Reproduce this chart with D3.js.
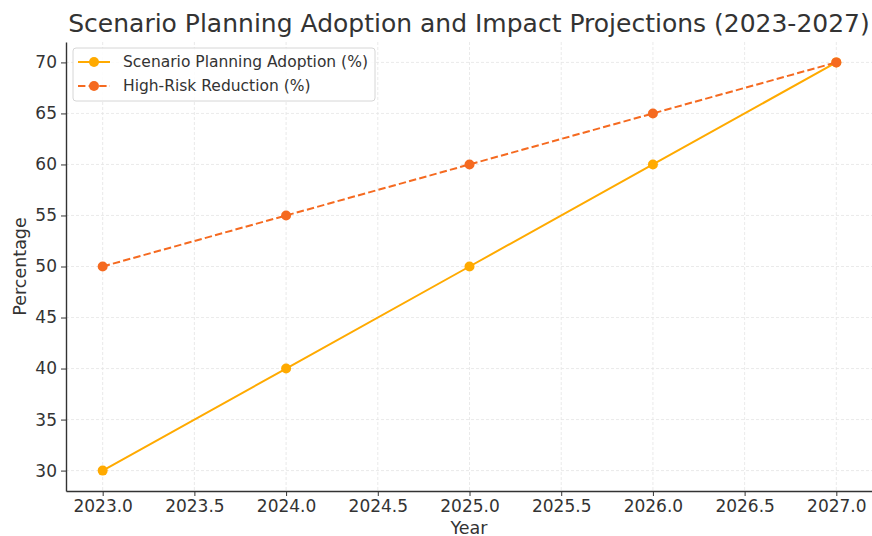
<!DOCTYPE html>
<html>
<head>
<meta charset="utf-8">
<script src="https://cdn.jsdelivr.net/npm/d3@7"></script>
<style>
  body { margin: 0; background: #fff; }
  svg text { font-family: "DejaVu Sans", sans-serif; }
</style>
</head>
<body>
<svg id="chart"></svg>
<script>
var years = [2023, 2024, 2025, 2026, 2027];
var adoption = [30, 40, 50, 60, 70];
var riskReduction = [50, 55, 60, 65, 70];
var xTicks = [2023.0, 2023.5, 2024.0, 2024.5, 2025.0, 2025.5, 2026.0, 2026.5, 2027.0];
var yTicks = [30, 35, 40, 45, 50, 55, 60, 65, 70];

var series = [
  { name: "Scenario Planning Adoption (%)", values: adoption, color: "#ffaa00", dash: null },
  { name: "High-Risk Reduction (%)", values: riskReduction, color: "#f56a20", dash: "7.4,3.2" }
];

var width = 872, height = 536;
var margin = { top: 42, right: 0, bottom: 45, left: 66 };

var svg = d3.select("svg#chart")
  .attr("width", width)
  .attr("height", height);

var x = d3.scaleLinear().domain([2022.8, 2027.2]).range([margin.left, 873]);
var y = d3.scaleLinear().domain([28, 72]).range([height - margin.bottom, margin.top]);

// grid
var grid = svg.append("g").attr("stroke", "#e4e4e4").attr("stroke-dasharray", "3,2").attr("stroke-width", 0.8);
grid.selectAll(".gx").data(xTicks).enter().append("line")
  .attr("x1", function(d) { return x(d); }).attr("x2", function(d) { return x(d); })
  .attr("y1", y.range()[1]).attr("y2", y.range()[0]);
grid.selectAll(".gy").data(yTicks).enter().append("line")
  .attr("y1", function(d) { return y(d); }).attr("y2", function(d) { return y(d); })
  .attr("x1", margin.left).attr("x2", width);

// axes
var xAxis = svg.append("g")
  .attr("transform", "translate(0," + (height - margin.bottom) + ")")
  .call(d3.axisBottom(x).tickValues(xTicks).tickFormat(d3.format(".1f")).tickSize(5).tickSizeOuter(0).tickPadding(4));
var yAxis = svg.append("g")
  .attr("transform", "translate(" + margin.left + ",0)")
  .call(d3.axisLeft(y).tickValues(yTicks).tickSize(5).tickSizeOuter(0).tickPadding(4));

[xAxis, yAxis].forEach(function(a) {
  a.attr("font-family", "DejaVu Sans").attr("font-size", 17);
  a.select(".domain").attr("stroke", "#333").attr("stroke-width", 1.4);
  a.selectAll(".tick line").attr("stroke", "#333").attr("stroke-width", 1);
  a.selectAll(".tick text").attr("fill", "#333");
});

// axis labels
svg.append("text")
  .attr("x", (margin.left + 872) / 2).attr("y", 534)
  .attr("text-anchor", "middle").attr("fill", "#333").style("font-size", "17.5px")
  .text("Year");
svg.append("text")
  .attr("transform", "translate(26," + (y(50)) + ") rotate(-90)")
  .attr("text-anchor", "middle").attr("fill", "#333").style("font-size", "17.5px")
  .text("Percentage");

// title
svg.append("text")
  .attr("x", (margin.left + 872) / 2).attr("y", 32)
  .attr("text-anchor", "middle").attr("fill", "#333").style("font-size", "25px")
  .text("Scenario Planning Adoption and Impact Projections (2023-2027)");

// lines
var line = d3.line()
  .x(function(d, i) { return x(years[i]); })
  .y(function(d) { return y(d); });

series.forEach(function(s) {
  svg.append("path")
    .datum(s.values)
    .attr("fill", "none")
    .attr("stroke", s.color)
    .attr("stroke-width", 2)
    .attr("stroke-dasharray", s.dash)
    .attr("d", line);
  svg.selectAll(null).data(s.values).enter().append("circle")
    .attr("cx", function(d, i) { return x(years[i]); })
    .attr("cy", function(d) { return y(d); })
    .attr("r", 5)
    .attr("fill", s.color);
});

// legend
var legend = svg.append("g").attr("transform", "translate(73,48)");
legend.append("rect")
  .attr("width", 302).attr("height", 53).attr("rx", 3)
  .attr("fill", "#fff").attr("fill-opacity", 0.85)
  .attr("stroke", "#d6d6d6");
series.forEach(function(s, i) {
  var row = legend.append("g").attr("transform", "translate(0," + (14 + i * 24) + ")");
  row.append("line")
    .attr("x1", 5).attr("x2", 37).attr("y1", 0).attr("y2", 0)
    .attr("stroke", s.color).attr("stroke-width", 2)
    .attr("stroke-dasharray", s.dash);
  row.append("circle").attr("cx", 21).attr("cy", 0).attr("r", 5).attr("fill", s.color);
  row.append("text")
    .attr("x", 50).attr("y", 0).attr("dy", "0.35em")
    .attr("fill", "#333").style("font-size", "15.5px")
    .text(s.name);
});
</script>
</body>
</html>
